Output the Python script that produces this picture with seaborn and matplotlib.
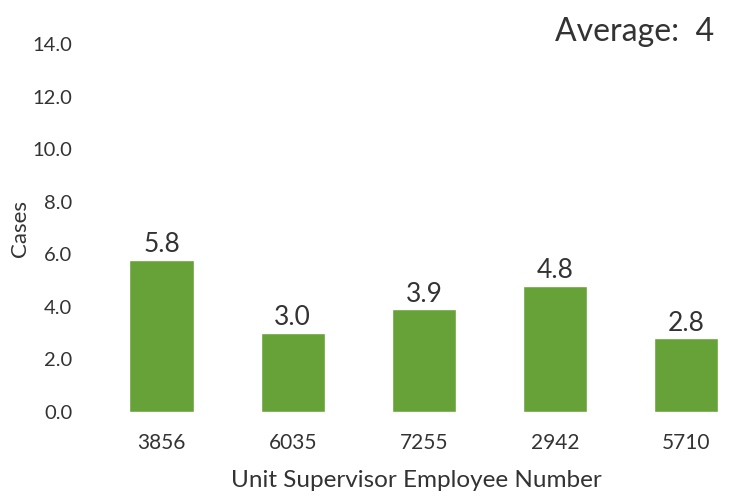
import matplotlib
matplotlib.use("Agg")
import matplotlib.pyplot as plt
import seaborn as sns
import pandas as pd

supervisors = ["3856", "6035", "7255", "2942", "5710"]
cases = [5.8, 3.0, 3.9, 4.8, 2.8]
y_ticks = [0, 2, 4, 6, 8, 10, 12, 14]
average_label = "Average:  4"

sns.set_theme(style="white")
plt.rcParams["font.family"] = ["Lato", "DejaVu Sans"]

text_color = "#333333"
bar_color = "#67a238"

df = pd.DataFrame({"supervisor": supervisors, "cases": cases})

fig = plt.figure(figsize=(7.36, 4.98), dpi=100)
ax = fig.add_axes([96 / 736, 1 - 412 / 498, (736 - 96) / 736, (412 - 44) / 498])

sns.barplot(data=df, x="supervisor", y="cases", color=bar_color,
            saturation=1, width=0.49, ax=ax)

ax.set_ylim(0, 14)
ax.set_xlim(-0.5, 4.38)
ax.set_yticks(y_ticks)
ax.set_yticklabels([f"{v:.1f}" for v in y_ticks], fontsize=14.5, color=text_color)
ax.tick_params(axis="y", length=0, pad=17)
ax.tick_params(axis="x", length=0, pad=15, labelsize=15, labelcolor=text_color)

for s in ax.spines.values():
    s.set_visible(False)
ax.grid(False)

ax.set_xlabel("Unit Supervisor Employee Number", fontsize=17.5, color=text_color, labelpad=12)
ax.set_ylabel("Cases", fontsize=16, color=text_color, labelpad=2)

for container in ax.containers:
    ax.bar_label(container, labels=[f"{v:.1f}" for v in cases],
                 fontsize=19, color=text_color, padding=2)

fig.text(0.97, 0.935, average_label, ha="right", va="center",
         fontsize=23, color=text_color)

fig.savefig("out.png", dpi=100, facecolor="white")
